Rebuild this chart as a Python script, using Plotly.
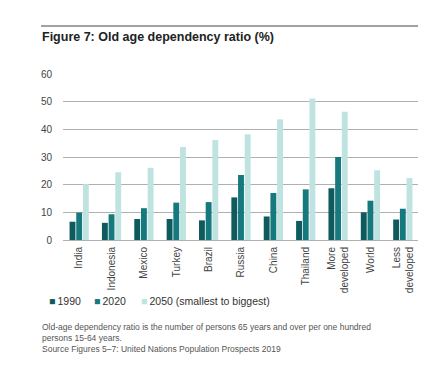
import plotly.graph_objects as go

categories = ["India", "Indonesia", "Mexico", "Turkey", "Brazil", "Russia", "China",
              "Thailand", "More<br>developed", "World", "Less<br>developed"]
v1990 = [6.6, 6.2, 7.6, 7.6, 7.1, 15.4, 8.5, 6.9, 18.7, 10.0, 7.4]
v2020 = [9.9, 9.3, 11.5, 13.5, 13.7, 23.5, 17.0, 18.3, 30.0, 14.2, 11.3]
v2050 = [20.2, 24.5, 26.1, 33.6, 36.1, 38.2, 43.6, 51.1, 46.4, 25.2, 22.4]
series_names = ["1990", "2020", "2050 (smallest to biggest)"]
colors = ["#0f5a5e", "#15797d", "#bfe3e0"]

# page body has an 8px margin; compensate so the chart sits where the reference does
O = 8
W, H = 426 - O, 367 - O
L, R, T, B = 63 - O, 15 - O, 74 - O, 135 - O
ph = H - T - B
pw = W - L - R

def py(y):
    return (H - B - (y - O)) / ph

def px(x):
    return ((x - O) - L) / pw

fig = go.Figure()
for name, vals, c in zip(series_names, [v1990, v2020, v2050], colors):
    fig.add_trace(go.Bar(x=categories, y=vals, name=name, marker_color=c,
                         marker_line_width=0, showlegend=False))

font = "Liberation Sans, Arial, sans-serif"
fig.update_layout(
    width=W, height=H,
    margin=dict(l=L, r=R, t=T, b=B, autoexpand=False),
    paper_bgcolor="white", plot_bgcolor="white",
    barmode="group", bargap=0.38, bargroupgap=0.12,
    font=dict(family=font, size=10, color="#444444"),
    showlegend=False,
    xaxis=dict(tickangle=-90, showgrid=False, showline=True, linecolor="#b0b0b0",
               linewidth=1, ticks="outside", ticklen=2, tickcolor="rgba(0,0,0,0)",
               tickfont=dict(size=10, color="#444444"), fixedrange=True),
    yaxis=dict(range=[0, 60], dtick=10, showgrid=True, gridcolor="#b0b0b0",
               gridwidth=1, zeroline=False, ticks="outside", ticklen=8,
               tickcolor="rgba(0,0,0,0)",
               tickfont=dict(size=10, color="#444444"), fixedrange=True),
)

fig.add_shape(type="line", xref="paper", yref="paper", x0=px(41), x1=px(418),
              y0=py(26), y1=py(26), line=dict(color="#444444", width=1))
fig.add_annotation(xref="paper", yref="paper", x=px(40), y=py(37), xanchor="left",
                   yanchor="middle", showarrow=False,
                   text="<b>Figure 7: Old age dependency ratio (%)</b>",
                   font=dict(size=12.5, color="#222222", family=font))

# legend drawn as text entries with coloured squares
legend_x = [47, 92, 139]
for name, c, lx in zip(series_names, colors, legend_x):
    fig.add_annotation(xref="paper", yref="paper", x=px(lx), y=py(301), xanchor="left",
                       yanchor="middle", showarrow=False,
                       text=f"<span style='color:{c}'>■</span>\u2009{name}",
                       font=dict(size=10.5, color="#333333", family=font))

fig.add_annotation(xref="paper", yref="paper", x=px(40), y=py(320), xanchor="left",
                   yanchor="top", showarrow=False, align="left",
                   text=("Old-age dependency ratio is the number of persons 65 years and over per one hundred<br>"
                         "persons 15-64 years.<br>"
                         "Source Figures 5–7: United Nations Population Prospects 2019"),
                   font=dict(size=8.5, color="#555555", family=font))

fig.write_html("out.html")
